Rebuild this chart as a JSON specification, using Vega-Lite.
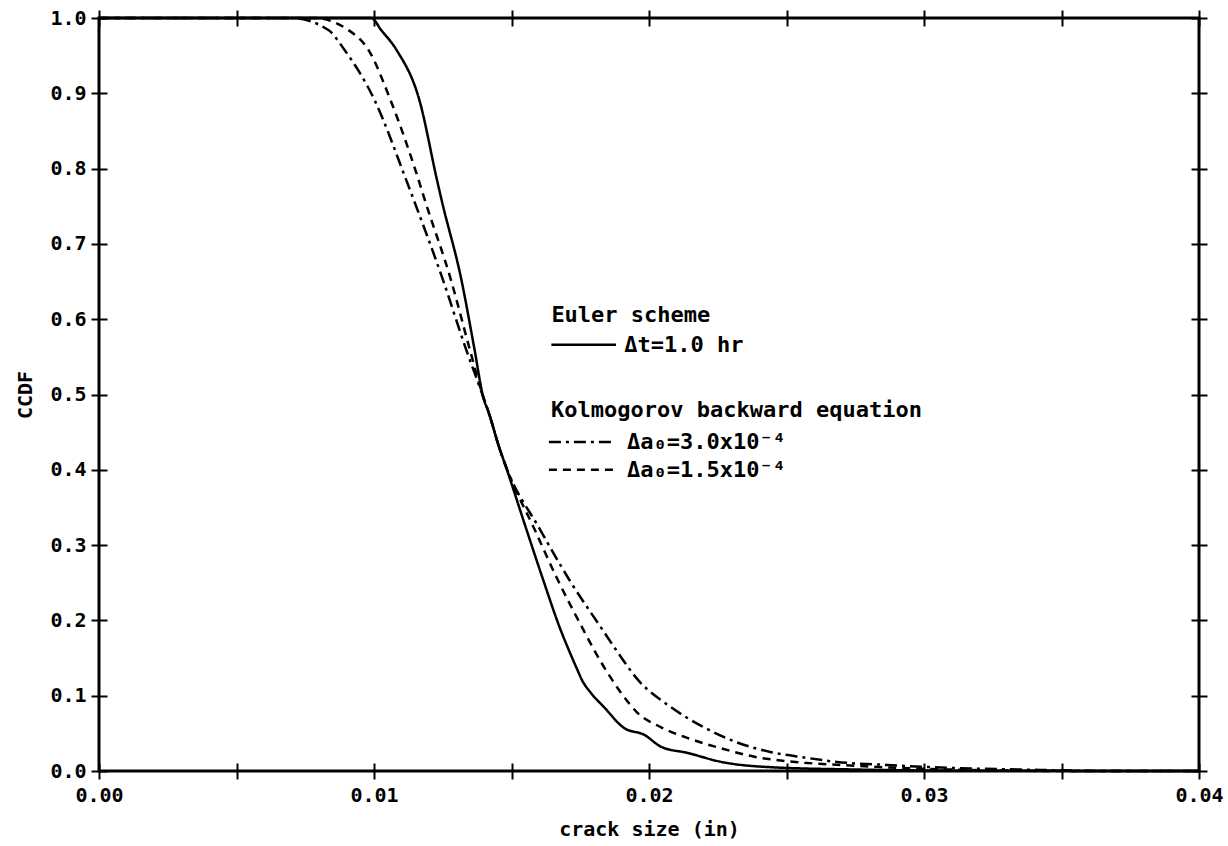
{
  "$schema": "https://vega.github.io/schema/vega-lite/v6.json",
  "width": 1100,
  "height": 753,
  "autosize": {"type": "none"},
  "padding": {"left": 99, "top": 18, "right": 29, "bottom": 75},
  "background": "white",
  "config": {
    "view": {"stroke": "black", "strokeWidth": 3},
    "axis": {
      "grid": false,
      "domain": false,
      "tickColor": "black",
      "tickWidth": 2,
      "tickSize": 16,
      "offset": -8,
      "labelFont": "DejaVu Sans Mono",
      "labelFontSize": 20,
      "labelFontWeight": "bold",
      "labelColor": "black",
      "titleFont": "DejaVu Sans Mono",
      "titleFontSize": 20,
      "titleFontWeight": "bold",
      "titleColor": "black"
    }
  },
  "datasets": {
    "curves": [
      {"series": "Euler", "x": 0, "c": 1},
      {"series": "Euler", "x": 0.0099, "c": 1},
      {"series": "Euler", "x": 0.01026, "c": 0.984},
      {"series": "Euler", "x": 0.01082, "c": 0.9575},
      {"series": "Euler", "x": 0.01165, "c": 0.891},
      {"series": "Euler", "x": 0.01229, "c": 0.785},
      {"series": "Euler", "x": 0.01246, "c": 0.758},
      {"series": "Euler", "x": 0.01318, "c": 0.652},
      {"series": "Euler", "x": 0.01364, "c": 0.563},
      {"series": "Euler", "x": 0.01397, "c": 0.497},
      {"series": "Euler", "x": 0.01418, "c": 0.475},
      {"series": "Euler", "x": 0.01455, "c": 0.43},
      {"series": "Euler", "x": 0.01475, "c": 0.409},
      {"series": "Euler", "x": 0.01555, "c": 0.32},
      {"series": "Euler", "x": 0.01615, "c": 0.254},
      {"series": "Euler", "x": 0.01679, "c": 0.187},
      {"series": "Euler", "x": 0.01708, "c": 0.161},
      {"series": "Euler", "x": 0.0174, "c": 0.134},
      {"series": "Euler", "x": 0.01756, "c": 0.121},
      {"series": "Euler", "x": 0.01788, "c": 0.104},
      {"series": "Euler", "x": 0.01836, "c": 0.085},
      {"series": "Euler", "x": 0.0191, "c": 0.057},
      {"series": "Euler", "x": 0.01983, "c": 0.048},
      {"series": "Euler", "x": 0.02045, "c": 0.032},
      {"series": "Euler", "x": 0.0214, "c": 0.024},
      {"series": "Euler", "x": 0.02264, "c": 0.012},
      {"series": "Euler", "x": 0.02445, "c": 0.005},
      {"series": "Euler", "x": 0.0275, "c": 0.002},
      {"series": "Euler", "x": 0.031, "c": 0.0005},
      {"series": "Euler", "x": 0.04, "c": 0},
      {"series": "K15", "x": 0, "c": 1},
      {"series": "K15", "x": 0.0078, "c": 1},
      {"series": "K15", "x": 0.00907, "c": 0.984},
      {"series": "K15", "x": 0.0098, "c": 0.9575},
      {"series": "K15", "x": 0.0106, "c": 0.891},
      {"series": "K15", "x": 0.01162, "c": 0.785},
      {"series": "K15", "x": 0.01185, "c": 0.758},
      {"series": "K15", "x": 0.0128, "c": 0.652},
      {"series": "K15", "x": 0.01346, "c": 0.563},
      {"series": "K15", "x": 0.01397, "c": 0.497},
      {"series": "K15", "x": 0.01418, "c": 0.475},
      {"series": "K15", "x": 0.01455, "c": 0.43},
      {"series": "K15", "x": 0.01475, "c": 0.409},
      {"series": "K15", "x": 0.01585, "c": 0.32},
      {"series": "K15", "x": 0.01668, "c": 0.254},
      {"series": "K15", "x": 0.01762, "c": 0.187},
      {"series": "K15", "x": 0.018, "c": 0.161},
      {"series": "K15", "x": 0.0185, "c": 0.13},
      {"series": "K15", "x": 0.01866, "c": 0.121},
      {"series": "K15", "x": 0.01898, "c": 0.104},
      {"series": "K15", "x": 0.01956, "c": 0.078},
      {"series": "K15", "x": 0.02044, "c": 0.058},
      {"series": "K15", "x": 0.02139, "c": 0.044},
      {"series": "K15", "x": 0.02263, "c": 0.03},
      {"series": "K15", "x": 0.02383, "c": 0.019},
      {"series": "K15", "x": 0.02565, "c": 0.011},
      {"series": "K15", "x": 0.02746, "c": 0.007},
      {"series": "K15", "x": 0.02989, "c": 0.003},
      {"series": "K15", "x": 0.03228, "c": 0.001},
      {"series": "K15", "x": 0.035, "c": 0},
      {"series": "K15", "x": 0.04, "c": 0},
      {"series": "K30", "x": 0, "c": 1},
      {"series": "K30", "x": 0.007, "c": 1},
      {"series": "K30", "x": 0.00834, "c": 0.984},
      {"series": "K30", "x": 0.00893, "c": 0.9575},
      {"series": "K30", "x": 0.01002, "c": 0.891},
      {"series": "K30", "x": 0.01117, "c": 0.785},
      {"series": "K30", "x": 0.01145, "c": 0.758},
      {"series": "K30", "x": 0.01251, "c": 0.652},
      {"series": "K30", "x": 0.01332, "c": 0.563},
      {"series": "K30", "x": 0.01397, "c": 0.497},
      {"series": "K30", "x": 0.01418, "c": 0.475},
      {"series": "K30", "x": 0.01455, "c": 0.43},
      {"series": "K30", "x": 0.01475, "c": 0.409},
      {"series": "K30", "x": 0.01605, "c": 0.32},
      {"series": "K30", "x": 0.0171, "c": 0.254},
      {"series": "K30", "x": 0.01832, "c": 0.187},
      {"series": "K30", "x": 0.0188, "c": 0.161},
      {"series": "K30", "x": 0.0196, "c": 0.121},
      {"series": "K30", "x": 0.02079, "c": 0.085},
      {"series": "K30", "x": 0.022, "c": 0.058},
      {"series": "K30", "x": 0.0232, "c": 0.038},
      {"series": "K30", "x": 0.02444, "c": 0.025},
      {"series": "K30", "x": 0.02564, "c": 0.018},
      {"series": "K30", "x": 0.02684, "c": 0.012},
      {"series": "K30", "x": 0.02866, "c": 0.008},
      {"series": "K30", "x": 0.03108, "c": 0.004},
      {"series": "K30", "x": 0.0335, "c": 0.002},
      {"series": "K30", "x": 0.037, "c": 0},
      {"series": "K30", "x": 0.04, "c": 0}
    ],
    "keys": [
      {"series": "Euler", "x": 0.01645, "x2": 0.0188, "c": 0.566},
      {"series": "K30", "x": 0.01636, "x2": 0.01871, "c": 0.437},
      {"series": "K15", "x": 0.01636, "x2": 0.01871, "c": 0.4}
    ],
    "labels": [
      {"t": "Euler scheme", "x": 0.01645, "c": 0.606},
      {"t": "Δt=1.0 hr", "x": 0.0191, "c": 0.566},
      {"t": "Kolmogorov backward equation", "x": 0.01644, "c": 0.479},
      {"t": "Δa₀=3.0x10⁻⁴", "x": 0.0192, "c": 0.437},
      {"t": "Δa₀=1.5x10⁻⁴", "x": 0.0192, "c": 0.4}
    ]
  },
  "layer": [
    {
      "data": {"name": "curves"},
      "mark": {"type": "line", "color": "black", "strokeWidth": 2.5, "strokeCap": "butt", "interpolate": "monotone"},
      "encoding": {
        "x": {
          "field": "x", "type": "quantitative",
          "scale": {"domain": [0, 0.04], "nice": false, "zero": false},
          "axis": {
            "orient": "bottom",
            "values": [0, 0.005, 0.01, 0.015, 0.02, 0.025, 0.03, 0.035, 0.04],
            "labelExpr": "round(datum.value*1000) % 10 == 0 ? format(datum.value, '.2f') : ''",
            "labelPadding": 6,
            "labelFlush": false,
            "title": "crack size (in)",
            "titlePadding": 14
          }
        },
        "y": {
          "field": "c", "type": "quantitative",
          "scale": {"domain": [0, 1], "nice": false},
          "axis": {
            "orient": "left",
            "values": [0, 0.1, 0.2, 0.3, 0.4, 0.5, 0.6, 0.7, 0.8, 0.9, 1.0],
            "format": ".1f",
            "labelPadding": 5,
            "labelFlush": false,
            "title": "CCDF",
            "titlePadding": 14
          }
        },
        "detail": {"field": "series"},
        "strokeDash": {
          "field": "series", "type": "nominal",
          "scale": {"domain": ["Euler", "K30", "K15"], "range": [[1, 0], [12, 5, 3, 5], [8, 6]]},
          "legend": null
        }
      }
    },
    {
      "data": {"name": "keys"},
      "mark": {"type": "rule", "color": "black", "strokeWidth": 2.5, "strokeCap": "butt"},
      "encoding": {
        "x": {
          "field": "x", "type": "quantitative",
          "scale": {"domain": [0, 0.04], "nice": false, "zero": false},
          "axis": {
            "orient": "top",
            "values": [0, 0.005, 0.01, 0.015, 0.02, 0.025, 0.03, 0.035, 0.04],
            "labels": false,
            "title": null
          }
        },
        "x2": {"field": "x2"},
        "y": {
          "field": "c", "type": "quantitative",
          "scale": {"domain": [0, 1], "nice": false},
          "axis": {
            "orient": "right",
            "values": [0, 0.1, 0.2, 0.3, 0.4, 0.5, 0.6, 0.7, 0.8, 0.9, 1.0],
            "labels": false,
            "title": null
          }
        },
        "strokeDash": {
          "field": "series", "type": "nominal",
          "scale": {"domain": ["Euler", "K30", "K15"], "range": [[1, 0], [12, 5, 3, 5], [8, 6]]},
          "legend": null
        }
      }
    },
    {
      "data": {"name": "labels"},
      "mark": {"type": "text", "align": "left", "baseline": "middle", "font": "DejaVu Sans Mono", "fontSize": 22, "fontWeight": "bold", "color": "black"},
      "encoding": {
        "x": {"field": "x", "type": "quantitative", "scale": {"domain": [0, 0.04], "nice": false, "zero": false}, "axis": null},
        "y": {"field": "c", "type": "quantitative", "scale": {"domain": [0, 1], "nice": false}, "axis": null},
        "text": {"field": "t"}
      }
    }
  ],
  "resolve": {"axis": {"x": "independent", "y": "independent"}}
}
